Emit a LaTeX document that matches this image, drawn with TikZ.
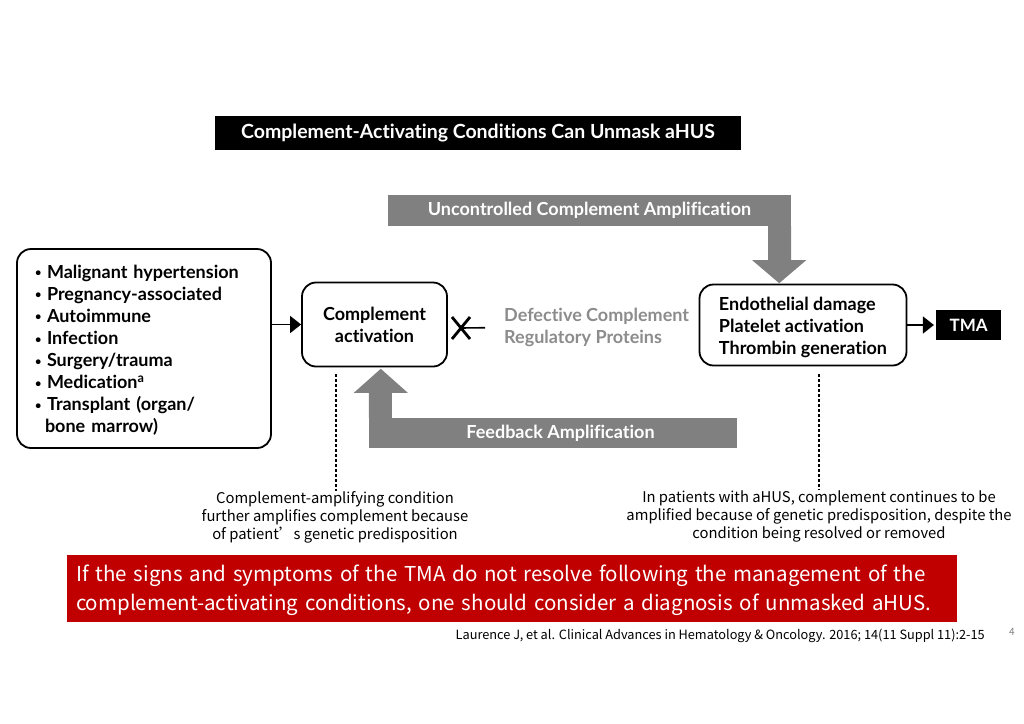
\documentclass[tikz,border=0pt]{standalone}
\usepackage{fontspec}
\setmainfont{Lato}[Ligatures=NoCommon]
\newfontfamily\cjk{Noto Sans CJK SC}
\usetikzlibrary{arrows.meta, positioning}

\definecolor{bandgray}{RGB}{128,128,128}
\definecolor{textgray}{RGB}{140,140,140}
\definecolor{alertred}{RGB}{192,0,0}
\newcommand{\bul}{\makebox[12pt][l]{\raisebox{1.5pt}{\fontsize{11}{11}\selectfont•}}}

\begin{document}
\begin{tikzpicture}[
    x=1pt, y=-1pt,
    roundbox/.style={
        rectangle, draw, line width=1.8pt, rounded corners=14pt,
        font=\fontsize{18}{22.1}\selectfont\bfseries
    },
    blackbox/.style={
        rectangle, fill=black, text=white, inner sep=0pt,
        font=\fontsize{17}{20}\selectfont\bfseries
    },
    band/.style={
        rectangle, fill=bandgray, text=white, inner sep=0pt,
        font=\fontsize{18}{20}\selectfont\bfseries
    },
    note/.style={align=center, inner sep=0pt, font=\cjk\fontsize{14.8}{18}\selectfont},
    arr/.style={-{Triangle[length=11pt, width=17pt]}, line width=1.6pt},
    dashline/.style={dash pattern=on 3pt off 2pt, line width=1.1pt},
    xstroke/.style={line width=2.8pt},
]

\fill[white] (0,0) rectangle (1024,723);
\useasboundingbox (0,0) rectangle (1024,723);

%% Title
\node[blackbox, minimum width=526pt, minimum height=34pt,
      font=\fontsize{19.5}{22}\selectfont\bfseries] (title) at (478,133)
    {Complement-Activating Conditions Can Unmask aHUS};

%% Row: conditions, complement activation, damage, TMA
\node[roundbox, minimum width=254pt, minimum height=199pt, text width=218pt,
      inner xsep=18pt, align=left] (conds) at (144,348.5)
    {\rule{0pt}{17pt}\bul Malignant hypertension\\
     \bul Pregnancy-associated\\
     \bul Autoimmune\\
     \bul Infection\\
     \bul Surgery/trauma\\
     \bul Medication\textsuperscript{a}\\
     \bul Transplant (organ/\\
     \hspace*{10pt}bone marrow)};

\node[roundbox, minimum width=145pt, minimum height=84pt, align=center] (comp) at (374.5,324.5)
    {Complement\\activation};

\node[roundbox, minimum width=207pt, minimum height=81pt, align=left] (endo) at (803,325)
    {\rule{0pt}{19pt}Endothelial damage\\Platelet activation\\Thrombin generation};

\node[blackbox, minimum width=65pt, minimum height=30pt, right=28.5pt of endo] (tma) {TMA};

%% Defective regulators
\node[anchor=west, inner sep=0pt, align=left, text=textgray,
      font=\fontsize{18}{22}\selectfont\bfseries] (defect) at (504,327.5)
    {Defective Complement\\Regulatory Proteins};
\coordinate (xm) at (461,328);

%% Grey amplification bands
\node[band, minimum width=403pt, minimum height=31pt] (unc) at (589.5,210.5)
    {Uncontrolled Complement Amplification};
\node[band, minimum width=368pt, minimum height=30pt] (fb) at (553,433)
    {\hspace*{15pt}Feedback Amplification};

%% Notes and dashed leaders
\node[note] (lnote) at (335,517)
    {Complement-amplifying condition\\further amplifies complement because\\of patient’s genetic predisposition};
\node[note] (rnote) at (819,516)
    {In patients with aHUS, complement continues to be\\amplified because of genetic predisposition, despite the\\condition being resolved or removed};
\coordinate (ld) at (336,374);
\coordinate (rd) at (819,374);

%% Conclusion and reference
\node[rectangle, fill=alertred, text=white, minimum width=890pt, minimum height=67pt,
      text width=876pt, inner xsep=7pt, align=left,
      font=\cjk\fontsize{20.5}{29}\selectfont] (concl) at (512,588.5)
    {\rule{0pt}{21pt}\hspace*{2pt}If the signs and symptoms of the TMA do not resolve following the management of the\\
     \hspace*{2pt}complement-activating conditions, one should consider a diagnosis of unmasked aHUS.};
\node[anchor=east, inner sep=0pt, font=\cjk\fontsize{12.75}{15}\selectfont] (cite) at (985,636)
    {Laurence J, et al. Clinical Advances in Hematology \& Oncology. 2016; 14(11 Suppl 11):2-15};
\node[inner sep=0pt, text=gray, font=\cjk\fontsize{10}{12}\selectfont] (page) at (1012,632) {4};

%% Arrows
\draw[arr] (conds.east |- comp.west) -- (comp.west);
\draw[arr, shorten >=2pt] (endo.east |- tma.west) -- (tma.west);
\draw[line width=1.6pt, shorten <=19pt] (defect.west) -- (xm);
\draw[xstroke] (xm) ++(-9,-11) -- ++(18,22);
\draw[xstroke] (xm) ++(9,-11) -- ++(-18,22);

%% Big grey arrow heads
\fill[bandgray] (unc.south east) -- ++(0,34) -- ++(15,0) -- ++(-27,23)
    -- ++(-27,-23) -- ++(16,0) -- ++(0,-34) -- cycle;
\fill[bandgray] (fb.north west) -- ++(0,-25) -- ++(-15,0) -- ++(27,-24)
    -- ++(27,24) -- ++(-16,0) -- ++(0,25) -- cycle;

%% Dashed leaders
\draw[dashline] (ld) -- (ld |- lnote.north);
\draw[dashline] (rd) -- (rd |- rnote.north);

\end{tikzpicture}
\end{document}
